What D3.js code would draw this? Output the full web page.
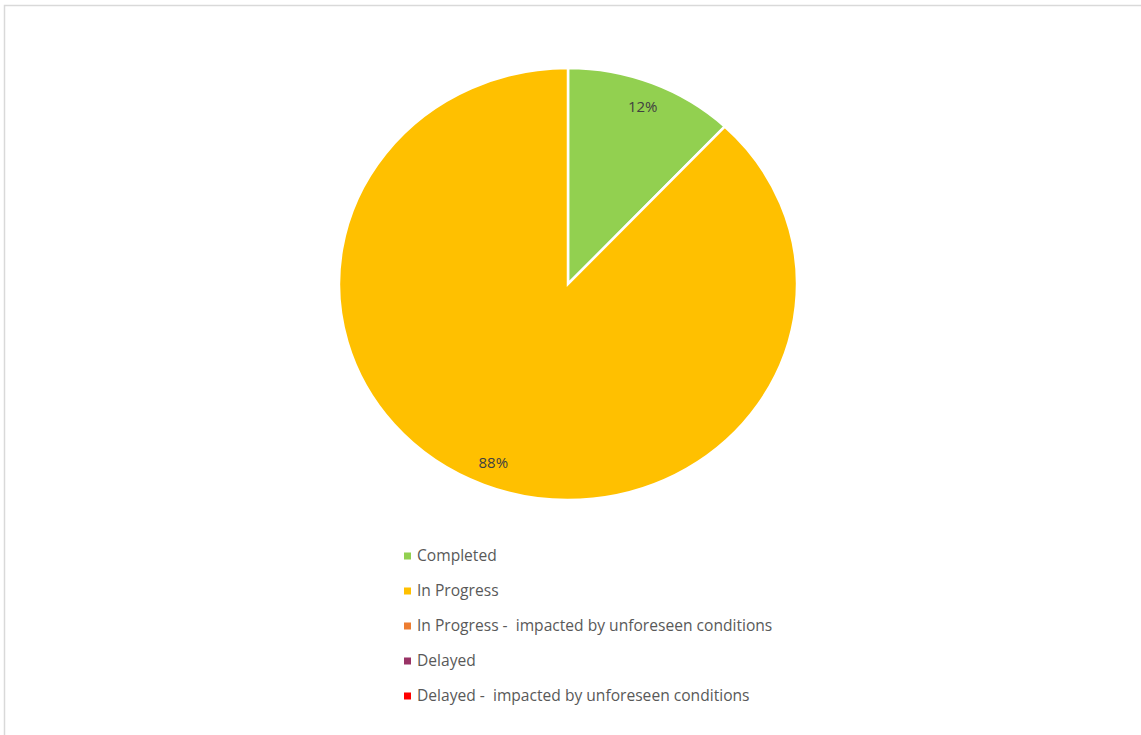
<!DOCTYPE html>
<html>
<head>
<meta charset="utf-8">
<script src="https://cdn.jsdelivr.net/npm/d3@7"></script>
<style>
  html, body { margin:0; padding:0; background:#fff; }
  svg { display:block; }
  text { white-space: pre; }
</style>
</head>
<body>
<div id="chart"></div>
<script>
// status pie -- Excel-style, slightly squashed vertically

const CATEGORIES = [
  "Completed",
  "In Progress",
  "In Progress -  impacted by unforeseen conditions",
  "Delayed",
  "Delayed -  impacted by unforeseen conditions"
];
const VALUES = [12, 88, 0, 0, 0];
const COLORS = ["#92d050", "#ffc000", "#ed7d31", "#993366", "#ff0000"];

const W = 1141, H = 735;
const FONT = "'Open Sans', 'Liberation Sans', sans-serif";

const svg = d3.select("#chart").append("svg")
  .attr("width", W).attr("height", H);

// chart area frame (runs off the right/bottom edges)
svg.append("rect")
  .attr("x", 4.5).attr("y", 5.5).attr("width", W + 20).attr("height", H + 20)
  .attr("fill", "#fff").attr("stroke", "#d9d9d9").attr("stroke-width", 1.5);

const cx = 568, cy = 284, R = 229, squash = 216 / 229;

const data = CATEGORIES.map((c, i) => ({ cat: c, value: VALUES[i], color: COLORS[i] }));
const total = d3.sum(VALUES);

const pie = d3.pie().value(d => d.value).sort(null);
const arcs = pie(data);
const arc = d3.arc().innerRadius(0).outerRadius(R);
const labelArc = d3.arc().innerRadius(203).outerRadius(203);

const pieG = svg.append("g")
  .attr("transform", `translate(${cx},${cy}) scale(1,${squash})`);

pieG.selectAll("path").data(arcs.filter(d => d.value > 0)).join("path")
  .attr("d", arc)
  .attr("fill", d => d.data.color)
  .attr("stroke", "#fff")
  .attr("stroke-width", 2.5)
  .attr("vector-effect", "non-scaling-stroke");

// percentage labels
svg.append("g").selectAll("text").data(arcs.filter(d => d.value > 0)).join("text")
  .attr("x", d => cx + labelArc.centroid(d)[0])
  .attr("y", d => cy + labelArc.centroid(d)[1] * squash)
  .attr("text-anchor", "middle").attr("dominant-baseline", "central")
  .attr("fill", "#404040")
  .style("font-family", FONT).style("font-size", "15px")
  .text(d => Math.round(d.value / total * 100) + "%");

// legend
const legY = d3.scalePoint().domain(CATEGORIES).range([556, 696]);
const leg = svg.append("g").selectAll("g").data(data).join("g")
  .attr("transform", d => `translate(404,${legY(d.cat)})`);

leg.append("rect")
  .attr("x", 0).attr("y", -3.5).attr("width", 7).attr("height", 7)
  .attr("fill", d => d.color);

leg.append("text")
  .attr("x", 13).attr("y", -1).attr("dominant-baseline", "central")
  .attr("fill", "#595959")
  .style("font-family", FONT).style("font-size", "15.6px")
  .text(d => d.cat);
</script>
</body>
</html>
